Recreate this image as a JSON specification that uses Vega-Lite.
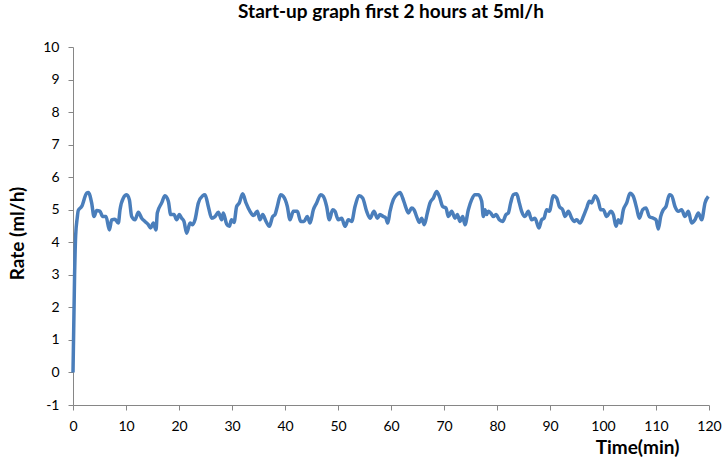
{
  "$schema": "https://vega.github.io/schema/vega-lite/v6.json",
  "width": 636,
  "height": 358,
  "autosize": {"type": "none"},
  "padding": {"left": 73, "top": 47, "right": 19, "bottom": 52},
  "background": "white",
  "title": {
    "text": "Start-up graph first 2 hours at 5ml/h",
    "font": "Lato",
    "fontSize": 19,
    "fontWeight": "bold",
    "color": "#000000",
    "anchor": "middle",
    "offset": 18
  },
  "config": {
    "view": {"stroke": null},
    "axis": {
      "grid": false,
      "domainColor": "#868686",
      "tickColor": "#868686",
      "tickSize": 5,
      "labelFont": "Lato",
      "labelFontSize": 14,
      "labelColor": "#000000",
      "titleFont": "Lato",
      "titleFontSize": 19,
      "titleFontWeight": "bold",
      "titleColor": "#000000"
    }
  },
  "data": {
    "values": [
      {"t": 0, "v": 0}, {"t": 0.3, "v": 3.0}, {"t": 0.5, "v": 4.2}, {"t": 0.8, "v": 4.75}, {"t": 1.0, "v": 4.98},
      {"t": 1.64, "v": 5.1}, {"t": 2.58, "v": 5.51}, {"t": 2.9, "v": 5.53}, {"t": 3.52, "v": 5.21},
      {"t": 3.96, "v": 4.79}, {"t": 4.47, "v": 4.98}, {"t": 5.09, "v": 4.95}, {"t": 5.6, "v": 4.79},
      {"t": 6.23, "v": 4.79}, {"t": 6.86, "v": 4.38}, {"t": 7.3, "v": 4.69}, {"t": 7.92, "v": 4.71},
      {"t": 8.55, "v": 4.59}, {"t": 8.87, "v": 5.0}, {"t": 9.5, "v": 5.36}, {"t": 10.13, "v": 5.46},
      {"t": 10.63, "v": 5.31}, {"t": 11.07, "v": 4.79}, {"t": 11.7, "v": 4.69}, {"t": 12.33, "v": 4.92},
      {"t": 12.96, "v": 4.74}, {"t": 13.58, "v": 4.64}, {"t": 14.21, "v": 4.54}, {"t": 14.65, "v": 4.44},
      {"t": 15.16, "v": 4.59}, {"t": 15.66, "v": 4.38}, {"t": 15.91, "v": 4.9}, {"t": 16.73, "v": 5.21},
      {"t": 17.36, "v": 5.43}, {"t": 17.99, "v": 5.26}, {"t": 18.43, "v": 4.85}, {"t": 19.06, "v": 4.85},
      {"t": 19.56, "v": 4.69}, {"t": 20.06, "v": 4.85}, {"t": 20.5, "v": 4.74}, {"t": 20.94, "v": 4.64},
      {"t": 21.45, "v": 4.28}, {"t": 22.08, "v": 4.59}, {"t": 22.58, "v": 4.54}, {"t": 23.02, "v": 4.69},
      {"t": 23.65, "v": 5.21}, {"t": 24.47, "v": 5.43}, {"t": 24.91, "v": 5.46}, {"t": 25.53, "v": 5.1},
      {"t": 26.16, "v": 4.74}, {"t": 26.79, "v": 4.79}, {"t": 27.42, "v": 4.92}, {"t": 28.05, "v": 4.69},
      {"t": 28.36, "v": 4.9}, {"t": 28.99, "v": 4.56}, {"t": 29.5, "v": 4.49}, {"t": 29.9, "v": 4.69},
      {"t": 30.38, "v": 4.61}, {"t": 30.88, "v": 5.1}, {"t": 31.38, "v": 5.21}, {"t": 32.01, "v": 5.49},
      {"t": 32.64, "v": 5.21}, {"t": 33.4, "v": 4.95}, {"t": 34.03, "v": 4.82}, {"t": 34.78, "v": 4.95},
      {"t": 35.28, "v": 4.69}, {"t": 35.79, "v": 4.85}, {"t": 36.42, "v": 4.64}, {"t": 37.04, "v": 4.49},
      {"t": 37.67, "v": 4.79}, {"t": 38.11, "v": 4.85}, {"t": 38.55, "v": 5.1}, {"t": 39.18, "v": 5.46},
      {"t": 39.69, "v": 5.41}, {"t": 40.44, "v": 5.1}, {"t": 40.94, "v": 4.69}, {"t": 41.57, "v": 4.95},
      {"t": 42.33, "v": 4.95}, {"t": 42.96, "v": 4.64}, {"t": 43.58, "v": 4.64}, {"t": 44.21, "v": 4.79},
      {"t": 44.72, "v": 4.59}, {"t": 45.35, "v": 5.0}, {"t": 45.97, "v": 5.21}, {"t": 46.73, "v": 5.46},
      {"t": 47.23, "v": 5.41}, {"t": 47.86, "v": 5.1}, {"t": 48.36, "v": 4.69}, {"t": 48.99, "v": 5.0},
      {"t": 49.43, "v": 4.95}, {"t": 50.06, "v": 4.69}, {"t": 50.69, "v": 4.74}, {"t": 51.32, "v": 4.49},
      {"t": 51.95, "v": 4.69}, {"t": 52.58, "v": 4.64}, {"t": 53.21, "v": 5.1}, {"t": 54.03, "v": 5.43},
      {"t": 54.65, "v": 5.36}, {"t": 55.41, "v": 4.95}, {"t": 56.04, "v": 4.74}, {"t": 56.79, "v": 4.95},
      {"t": 57.42, "v": 4.74}, {"t": 57.92, "v": 4.85}, {"t": 58.55, "v": 4.79}, {"t": 59.0, "v": 4.75},
      {"t": 59.4, "v": 4.59}, {"t": 59.81, "v": 4.95}, {"t": 60.44, "v": 5.31}, {"t": 61.06, "v": 5.46},
      {"t": 61.7, "v": 5.53}, {"t": 62.2, "v": 5.36}, {"t": 62.64, "v": 5.15}, {"t": 63.27, "v": 4.9},
      {"t": 63.9, "v": 5.05}, {"t": 64.34, "v": 5.0}, {"t": 64.84, "v": 4.79}, {"t": 65.35, "v": 4.61},
      {"t": 65.79, "v": 4.74}, {"t": 66.29, "v": 4.54}, {"t": 66.86, "v": 4.9}, {"t": 67.36, "v": 5.21},
      {"t": 67.99, "v": 5.36}, {"t": 68.62, "v": 5.56}, {"t": 69.12, "v": 5.41}, {"t": 69.75, "v": 5.1},
      {"t": 70.38, "v": 5.05}, {"t": 70.82, "v": 4.79}, {"t": 71.45, "v": 4.95}, {"t": 72.08, "v": 4.74},
      {"t": 72.52, "v": 4.85}, {"t": 73.02, "v": 4.64}, {"t": 73.52, "v": 4.79}, {"t": 73.96, "v": 4.54},
      {"t": 74.59, "v": 5.0}, {"t": 75.22, "v": 5.31}, {"t": 75.85, "v": 5.46}, {"t": 76.48, "v": 5.46},
      {"t": 77.11, "v": 5.26}, {"t": 77.42, "v": 4.79}, {"t": 77.74, "v": 5.0}, {"t": 78.05, "v": 4.85},
      {"t": 78.36, "v": 4.95}, {"t": 78.81, "v": 4.9}, {"t": 79.31, "v": 4.79}, {"t": 79.81, "v": 4.85},
      {"t": 80.44, "v": 4.69}, {"t": 81.07, "v": 4.64}, {"t": 81.7, "v": 4.85}, {"t": 82.14, "v": 4.9},
      {"t": 82.58, "v": 5.21}, {"t": 83.08, "v": 5.46}, {"t": 83.71, "v": 5.49}, {"t": 84.21, "v": 5.21},
      {"t": 84.65, "v": 4.95}, {"t": 85.28, "v": 4.79}, {"t": 85.91, "v": 4.95}, {"t": 86.54, "v": 4.69},
      {"t": 87.17, "v": 4.74}, {"t": 87.9, "v": 4.44}, {"t": 88.43, "v": 4.69}, {"t": 88.87, "v": 4.74},
      {"t": 89.37, "v": 5.0}, {"t": 89.87, "v": 4.95}, {"t": 90.63, "v": 5.43}, {"t": 91.26, "v": 5.36},
      {"t": 91.76, "v": 5.1}, {"t": 92.39, "v": 5.0}, {"t": 92.83, "v": 4.79}, {"t": 93.46, "v": 4.95},
      {"t": 94.09, "v": 4.74}, {"t": 94.53, "v": 4.64}, {"t": 95.03, "v": 4.69}, {"t": 95.66, "v": 4.59},
      {"t": 96.29, "v": 4.79}, {"t": 96.92, "v": 5.05}, {"t": 97.42, "v": 5.26}, {"t": 97.86, "v": 5.21},
      {"t": 98.49, "v": 5.43}, {"t": 99.12, "v": 5.26}, {"t": 99.56, "v": 5.0}, {"t": 100.06, "v": 5.0},
      {"t": 100.69, "v": 4.79}, {"t": 101.45, "v": 4.95}, {"t": 101.95, "v": 4.85}, {"t": 102.45, "v": 4.49},
      {"t": 102.89, "v": 4.69}, {"t": 103.33, "v": 4.59}, {"t": 103.84, "v": 5.0}, {"t": 104.47, "v": 5.21},
      {"t": 105.09, "v": 5.51}, {"t": 105.72, "v": 5.41}, {"t": 106.35, "v": 5.05}, {"t": 106.86, "v": 4.74},
      {"t": 107.48, "v": 5.0}, {"t": 108.11, "v": 5.05}, {"t": 108.74, "v": 4.79}, {"t": 109.5, "v": 4.74},
      {"t": 110.0, "v": 4.69}, {"t": 110.44, "v": 4.41}, {"t": 110.88, "v": 4.79}, {"t": 111.38, "v": 5.0},
      {"t": 111.89, "v": 5.1}, {"t": 112.52, "v": 5.46}, {"t": 112.96, "v": 5.43}, {"t": 113.58, "v": 5.1},
      {"t": 114.21, "v": 4.95}, {"t": 114.84, "v": 5.0}, {"t": 115.47, "v": 4.79}, {"t": 116.1, "v": 4.95},
      {"t": 116.73, "v": 4.59}, {"t": 117.36, "v": 4.69}, {"t": 117.99, "v": 4.9}, {"t": 118.62, "v": 4.69},
      {"t": 119.25, "v": 5.21}, {"t": 119.87, "v": 5.41}
    ]
  },
  "mark": {"type": "line", "color": "#4A7EBB", "strokeWidth": 3.5, "interpolate": "monotone"},
  "encoding": {
    "x": {
      "field": "t",
      "type": "quantitative",
      "scale": {"domain": [0, 120], "nice": false, "zero": false},
      "axis": {
        "values": [0, 10, 20, 30, 40, 50, 60, 70, 80, 90, 100, 110, 120],
        "labelExpr": "'' + datum.value",
        "title": "Time(min)",
        "titleAnchor": null,
        "titleAlign": "center",
        "titleBaseline": "alphabetic",
        "titleX": 564,
        "titleY": 48,
        "labelPadding": 9,
        "labelFlush": false
      }
    },
    "y": {
      "field": "v",
      "type": "quantitative",
      "scale": {"domain": [-1, 10], "nice": false, "zero": false},
      "axis": {
        "values": [-1, 0, 1, 2, 3, 4, 5, 6, 7, 8, 9, 10],
        "labelExpr": "'' + datum.value",
        "title": "Rate (ml/h)",
        "titleAnchor": null,
        "titleAngle": -90,
        "titleAlign": "center",
        "titleBaseline": "middle",
        "titleX": -56,
        "titleY": 186,
        "labelPadding": 9,
        "labelFlush": false
      }
    }
  }
}
